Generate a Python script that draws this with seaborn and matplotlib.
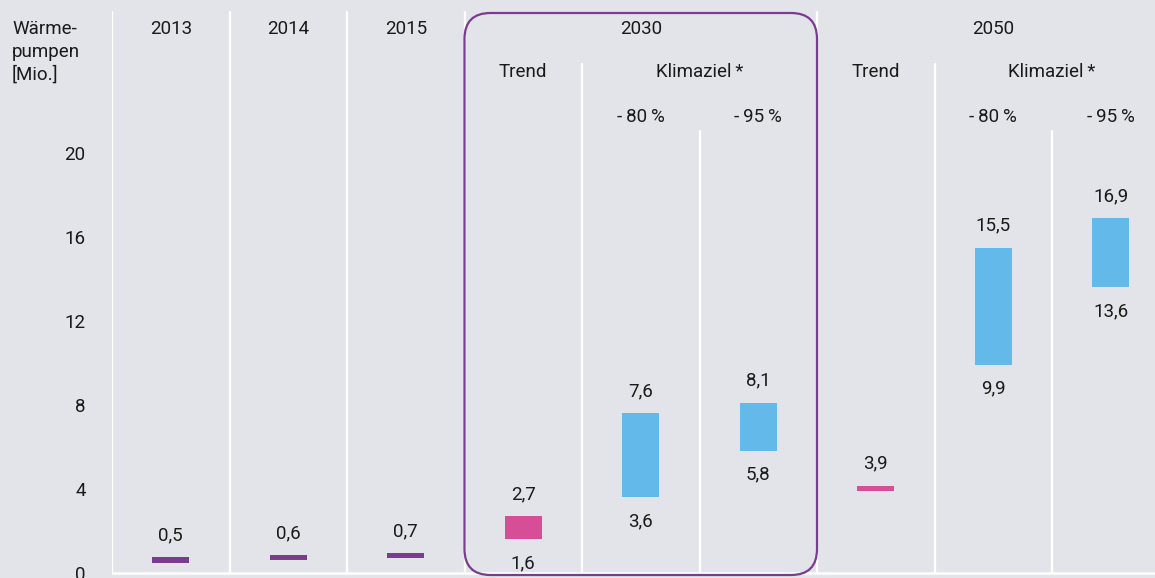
import matplotlib
matplotlib.use("Agg")
import matplotlib.pyplot as plt
import seaborn as sns
import pandas as pd
from matplotlib.patches import FancyBboxPatch
from matplotlib.transforms import blended_transform_factory

# ---------------- data ----------------
columns = ["2013", "2014", "2015", "2030 Trend", "2030 -80%", "2030 -95%",
           "2050 Trend", "2050 -80%", "2050 -95%"]
lows = [0.5, 0.6, 0.7, 1.6, 3.6, 5.8, 3.9, 9.9, 13.6]
highs = [0.5, 0.6, 0.7, 2.7, 7.6, 8.1, 3.9, 15.5, 16.9]
is_range = [False, False, False, True, True, True, False, True, True]

year_labels = ["2013", "2014", "2015", "2030", "2050"]
year_positions = [0, 1, 2, 4, 7]
scenario_labels = ["Trend", "Klimaziel\u2009*", "Trend", "Klimaziel\u2009*"]
scenario_positions = [3, 4.5, 6, 7.5]
target_labels = ["-\u200980\u2009%", "-\u200995\u2009%", "-\u200980\u2009%", "-\u200995\u2009%"]
target_positions = [4, 5, 7, 8]
y_ticks = [0, 4, 8, 12, 16, 20]
y_title = ["Wärme-", "pumpen", "[Mio.]"]

# ---------------- style ----------------
BG = "#e3e4e9"
PURPLE = "#7b3b8f"
PINK = "#d64f96"
BLUE = "#63b9e9"
TXT = "#1a1a1a"
bar_colors = [PURPLE, PURPLE, PURPLE, PINK, BLUE, BLUE, PINK, BLUE, BLUE]
THIN = 0.24
FS = 13.5

sns.set_theme(style="white")
plt.rcParams['font.family'] = ['Roboto', 'DejaVu Sans']
plt.rcParams['text.color'] = TXT

W, H = 1155, 578
fig = plt.figure(figsize=(W / 100, H / 100), dpi=100, facecolor=BG)
colw = 117.5
ax = fig.add_axes([112 / W, 0, (W - 112) / W, 1])
ax.set_facecolor(BG)

bottoms = list(lows)
heights = [(hi - lo) if r else THIN for lo, hi, r in zip(lows, highs, is_range)]
df = pd.DataFrame({"col": columns, "h": heights, "b": bottoms})

sns.barplot(data=df, x="col", y="h", order=columns, bottom=df["b"].values,
            width=0.315, color=BLUE, errorbar=None, linewidth=0, ax=ax)
for p, c in zip(ax.patches, bar_colors):
    p.set_facecolor(c)
    p.set_edgecolor("none")

zero_px = 573
ax.set_xlim(-0.5, -0.5 + (W - 112) / colw)
ax.set_ylim(-(H - zero_px) / 21, zero_px / 21)

def fmt(v):
    return f"{v:.1f}".replace(".", ",")

for i, (lo, hi, r) in enumerate(zip(lows, highs, is_range)):
    top = hi if r else lo + THIN
    ax.annotate(fmt(hi), (i, top), xytext=(0, 16), textcoords="offset points",
                ha="center", va="center", fontsize=FS, color=TXT)
    if r:
        ax.annotate(fmt(lo), (i, lo), xytext=(0, -17), textcoords="offset points",
                    ha="center", va="center", fontsize=FS, color=TXT)

# separators
def afrac(px):
    return 1 - px / H

for x in [-0.5, 0.5, 1.5, 2.5, 5.5]:
    ax.axvline(x, ymin=afrac(zero_px), ymax=afrac(12), color="white", lw=1.6, zorder=0.5)
for x in [3.5, 6.5]:
    ax.axvline(x, ymin=afrac(zero_px), ymax=afrac(64), color="white", lw=1.6, zorder=0.5)
for x in [4.5, 7.5]:
    ax.axvline(x, ymin=afrac(zero_px), ymax=afrac(131), color="white", lw=1.6, zorder=0.5)
ax.axhline(0, color="white", lw=1.8, zorder=0.5)

# headers
bt = blended_transform_factory(ax.transData, ax.transAxes)
for lab, x in zip(year_labels, year_positions):
    ax.text(x, afrac(29), lab, transform=bt, ha="center", va="center", fontsize=FS, color=TXT)
for lab, x in zip(scenario_labels, scenario_positions):
    ax.text(x, afrac(72), lab, transform=bt, ha="center", va="center", fontsize=FS, color=TXT)
for lab, x in zip(target_labels, target_positions):
    ax.text(x, afrac(117), lab, transform=bt, ha="center", va="center", fontsize=FS, color=TXT)

# highlight box around 2030
y_unit = 21
box_bot = -(575 - zero_px) / y_unit
box_top = (zero_px - 13) / y_unit
box = FancyBboxPatch((2.5, box_bot), 3.0, box_top - box_bot,
                     boxstyle=f"round,pad=0,rounding_size={26 / colw}",
                     mutation_aspect=colw / y_unit,
                     fill=False, edgecolor=PURPLE, lw=1.6, zorder=3, clip_on=False)
ax.add_patch(box)

# axes cosmetics
ax.set_xticks([])
ax.set_xlabel("")
ax.set_ylabel("")
ax.set_yticks(y_ticks)
ax.set_yticklabels([str(t) for t in y_ticks])
ax.tick_params(axis="y", length=0, pad=19, labelsize=FS, labelcolor=TXT)
ax.grid(False)
for s in ax.spines.values():
    s.set_visible(False)

for k, line in enumerate(y_title):
    fig.text(12 / W, 1 - (29 + 23 * k) / H, line, ha="left", va="center", fontsize=FS, color=TXT)

fig.savefig("out.png", dpi=100, facecolor=BG)
